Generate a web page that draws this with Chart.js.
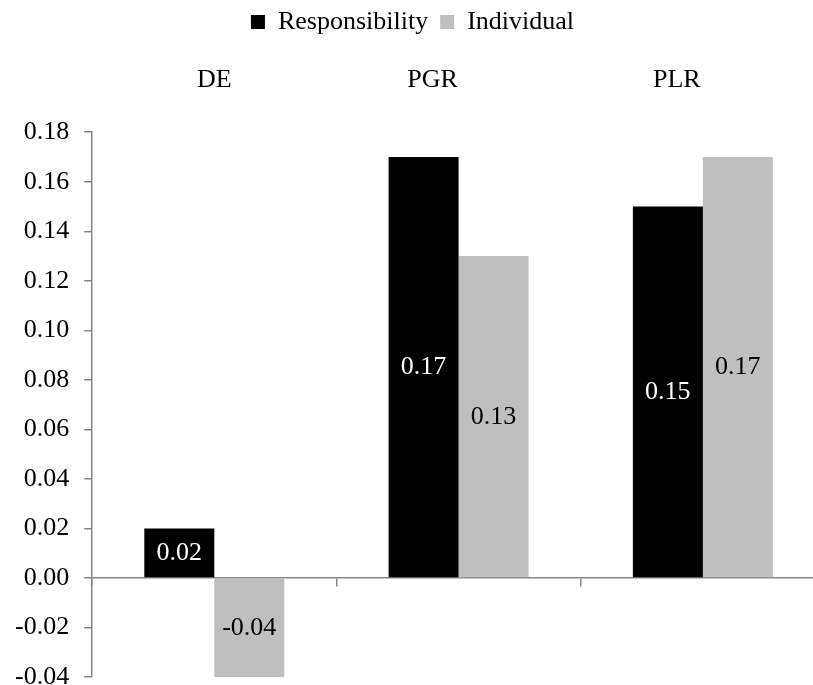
<!DOCTYPE html>
<html>
<head>
<meta charset="utf-8">
<script src="https://cdn.jsdelivr.net/npm/chart.js@4.4.0/dist/chart.umd.min.js"></script>
<style>
  html, body { margin: 0; padding: 0; background: #fff; overflow: hidden; }
  #wrap { width: 825px; height: 700px; }
</style>
</head>
<body>
<div id="wrap"><canvas id="barChart" width="825" height="700"></canvas></div>
<script>
const categories = ['DE', 'PGR', 'PLR'];
const responsibility = [0.02, 0.17, 0.15];
const individual = [-0.04, 0.13, 0.17];
const yMin = -0.04;
const yMax = 0.18;
const yStep = 0.02;

const serif = "'Liberation Serif', 'Times New Roman', serif";
const axisGrey = '#868686';
const fontSize = 26;
// the source placed PGR / PLR a bit left of their columns; trailing spaces shift them
const topLabelShift = [0, 8, 8];

// value labels in the middle of each bar
const barLabels = {
  id: 'barLabels',
  afterDatasetsDraw(chart) {
    const ctx = chart.ctx;
    ctx.save();
    ctx.font = fontSize + 'px ' + serif;
    ctx.textAlign = 'center';
    ctx.textBaseline = 'middle';
    chart.data.datasets.forEach((ds, i) => {
      const meta = chart.getDatasetMeta(i);
      meta.data.forEach((bar, j) => {
        ctx.fillStyle = ds.labelColor;
        ctx.fillText(ds.data[j].toFixed(2), bar.x, (bar.y + bar.base) / 2);
      });
    });
    ctx.restore();
  }
};

const ctx = document.getElementById('barChart').getContext('2d');
new Chart(ctx, {
  type: 'bar',
  data: {
    labels: categories,
    datasets: [
      {
        label: 'Responsibility',
        data: responsibility,
        backgroundColor: '#000000',
        labelColor: '#ffffff',
        categoryPercentage: 0.573,
        barPercentage: 1.0
      },
      {
        label: 'Individual',
        data: individual,
        backgroundColor: '#bfbfbf',
        labelColor: '#000000',
        categoryPercentage: 0.573,
        barPercentage: 1.0
      }
    ]
  },
  options: {
    responsive: false,
    animation: false,
    layout: { padding: { left: 0, right: 0, top: -3, bottom: 9 } },
    plugins: {
      legend: {
        display: true,
        position: 'top',
        maxHeight: 40,
        labels: {
          font: { family: serif, size: fontSize },
          color: '#000',
          boxWidth: 14,
          boxHeight: 14,
          padding: 12
        }
      },
      tooltip: { enabled: false }
    },
    scales: {
      x: {
        position: 'top',
        grid: { display: false },
        border: { display: false },
        ticks: {
          font: { family: serif, size: fontSize },
          color: '#000',
          padding: 28,
          callback: (v, i) => categories[i] + ' '.repeat(topLabelShift[i])
        }
      },
      x2: {
        type: 'category',
        labels: categories,
        position: { y: 0 },
        offset: true,
        grid: { drawOnChartArea: false, offset: true, tickLength: 8, color: axisGrey, lineWidth: 1.5 },
        border: { color: axisGrey, width: 1.5 },
        ticks: { display: false }
      },
      y: {
        min: yMin,
        max: yMax,
        grid: { drawOnChartArea: false, tickLength: 8, color: axisGrey, lineWidth: 1.5 },
        border: { color: axisGrey, width: 1.5 },
        ticks: {
          stepSize: yStep,
          font: { family: serif, size: fontSize, lineHeight: 0.6 },
          color: '#000',
          padding: 15,
          callback: v => v.toFixed(2)
        }
      }
    }
  },
  plugins: [barLabels]
});
</script>
</body>
</html>
